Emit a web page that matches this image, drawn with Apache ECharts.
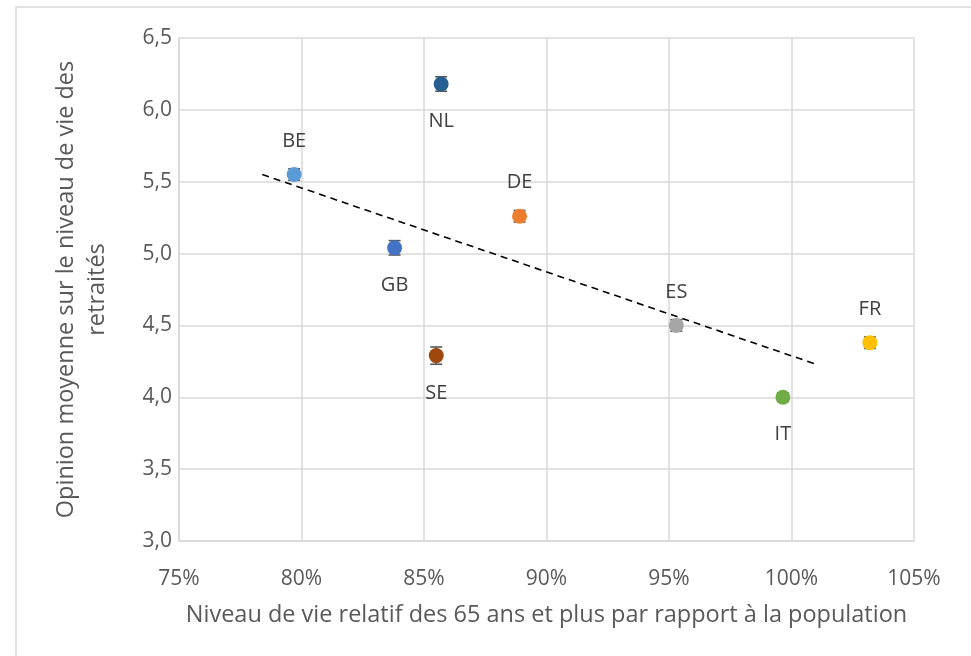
<!DOCTYPE html>
<html>
<head>
    <meta charset="UTF-8">
    <title>Niveau de vie des retraités</title>
</head>
<style>
    html, body { margin: 0; padding: 0; background: #fff; }
    #chart { width: 971px; height: 656px; }
</style>
<body>
<div id="chart"></div>
<script src="https://cdn.jsdelivr.net/npm/echarts@6/dist/echarts.min.js"></script>
<script>
    // données
    var countries = ['BE', 'NL', 'DE', 'GB', 'SE', 'ES', 'IT', 'FR'];
    var niveauRelatif = [79.7, 85.7, 88.9, 83.8, 85.5, 95.3, 99.65, 103.2];
    var opinion = [5.55, 6.18, 5.26, 5.04, 4.29, 4.50, 4.00, 4.38];
    var erreur = [0.04, 0.05, 0.04, 0.05, 0.06, 0.04, 0.03, 0.04];
    var couleurs = ['#5B9BD5', '#255E91', '#ED7D31', '#4472C4', '#9E480E', '#A5A5A5', '#70AD47', '#FFC000'];
    var labelEnHaut = [true, false, true, false, false, true, false, true];
    var tendanceX = [78.4, 101.0];
    var tendanceY = [5.55, 4.23];
    var xTicks = [75, 80, 85, 90, 95, 100, 105];
    var yTicks = [3.0, 3.5, 4.0, 4.5, 5.0, 5.5, 6.0, 6.5];

    var police = '"Open Sans", "Noto Sans", sans-serif';

    var points = countries.map(function (c, i) {
        return {
            name: c,
            value: [niveauRelatif[i], opinion[i]],
            itemStyle: {color: couleurs[i], opacity: 1},
            label: labelEnHaut[i] ? {position: 'top', distance: 16} : {position: 'bottom', distance: 20}
        };
    });
    var barres = countries.map(function (c, i) {
        return [niveauRelatif[i], opinion[i] - erreur[i], opinion[i] + erreur[i]];
    });
    var tendance = tendanceX.map(function (x, i) { return [x, tendanceY[i]]; });

    var chart = echarts.init(document.getElementById('chart'));
    chart.setOption({
        animation: false,
        graphic: [{
            type: 'rect',
            shape: {x: 16, y: 7, width: 1000, height: 700},
            style: {fill: 'none', stroke: '#D9D9D9', lineWidth: 1.5},
            silent: true
        }],
        grid: {left: 179, right: 57, top: 38, bottom: 115, containLabel: false},
        xAxis: {
            type: 'value',
            min: xTicks[0],
            max: xTicks[xTicks.length - 1],
            interval: 5,
            name: 'Niveau de vie relatif des 65 ans et plus par rapport à la population',
            nameLocation: 'middle',
            nameGap: 62,
            nameTextStyle: {fontFamily: police, fontSize: 23.5, color: '#595959'},
            axisLine: {show: true, lineStyle: {color: '#D9D9D9', width: 1.5}},
            axisTick: {show: false},
            axisLabel: {
                fontFamily: police, fontSize: 21, color: '#595959', margin: 28,
                formatter: function (v) { return v + '%'; }
            },
            splitLine: {show: true, lineStyle: {color: '#D9D9D9', width: 1.5}}
        },
        yAxis: {
            type: 'value',
            min: yTicks[0],
            max: yTicks[yTicks.length - 1],
            interval: 0.5,
            name: 'Opinion moyenne sur le niveau de vie des\nretraités',
            nameLocation: 'middle',
            nameGap: 66,
            nameTextStyle: {fontFamily: police, fontSize: 23.5, color: '#595959', lineHeight: 31},
            axisLine: {show: true, lineStyle: {color: '#D9D9D9', width: 1.5}},
            axisTick: {show: false},
            axisLabel: {
                fontFamily: police, fontSize: 21, color: '#595959', margin: 7,
                formatter: function (v) { return v.toFixed(1).replace('.', ','); }
            },
            splitLine: {show: true, lineStyle: {color: '#D9D9D9', width: 1.5}}
        },
        series: [{
            type: 'line',
            data: tendance,
            symbol: 'none',
            lineStyle: {color: '#000', width: 1.6, type: [7, 5]},
            silent: true,
            z: 2
        }, {
            type: 'custom',
            data: barres,
            renderItem: function (params, api) {
                var bas = api.coord([api.value(0), api.value(1)]);
                var haut = api.coord([api.value(0), api.value(2)]);
                var w = 6;
                var st = {stroke: '#595959', lineWidth: 1.6};
                return {
                    type: 'group',
                    children: [
                        {type: 'line', shape: {x1: bas[0], y1: bas[1], x2: haut[0], y2: haut[1]}, style: st},
                        {type: 'line', shape: {x1: bas[0] - w, y1: bas[1], x2: bas[0] + w, y2: bas[1]}, style: st},
                        {type: 'line', shape: {x1: haut[0] - w, y1: haut[1], x2: haut[0] + w, y2: haut[1]}, style: st}
                    ]
                };
            },
            z: 3
        }, {
            type: 'scatter',
            data: points,
            symbolSize: 15,
            label: {
                show: true,
                formatter: '{b}',
                fontFamily: police,
                fontSize: 20,
                color: '#404040'
            },
            z: 4
        }]
    });
</script>
</body>
</html>
